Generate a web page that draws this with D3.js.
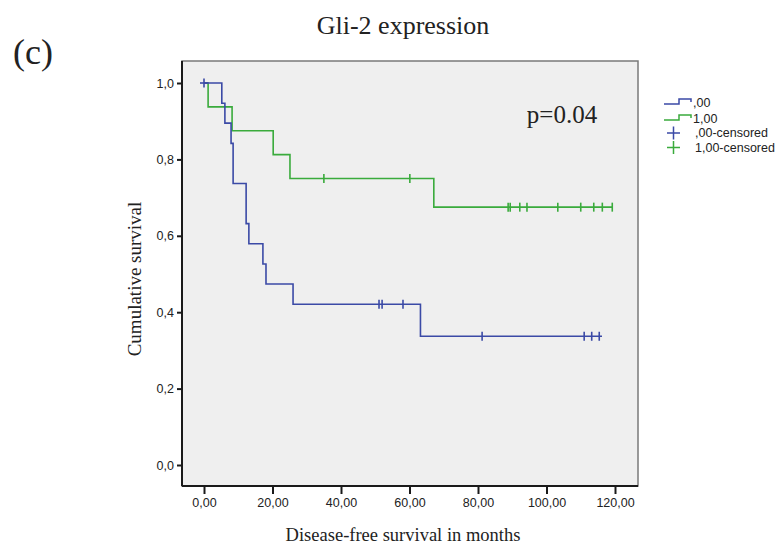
<!DOCTYPE html>
<html>
<head>
<meta charset="utf-8">
<script src="https://cdn.jsdelivr.net/npm/d3@7"></script>
<style>
  body { margin: 0; background: #fff; }
  .serif { font-family: "Liberation Serif", "DejaVu Serif", serif; fill: #222; }
  .sans { font-family: "Liberation Sans", Arial, sans-serif; fill: #222; }
</style>
</head>
<body>
<script>
const W = 778;
const H = 548;

// Kaplan-Meier steps: event times and survival after each event
const groups = [",00", "1,00"];
const colors = ["#3b4aa6", "#3aab3c"];

const blueTimes = [0, 5.2, 6.1, 7.9, 8.5, 12.3, 13.1, 17.2, 18.1, 26.0, 63.2];
const blueSurv = [1, 0.947, 0.895, 0.842, 0.737, 0.632, 0.579, 0.526, 0.474, 0.421, 0.337];
const blueCensored = [0, 51.1, 52.0, 58.1, 81.2, 111, 113.2, 115.4];
const blueEnd = 116.2;

const greenTimes = [0, 1.2, 8.2, 20.2, 25.1, 67.1];
const greenSurv = [1, 0.9375, 0.875, 0.8125, 0.75, 0.675];
const greenCensored = [35, 60.1, 88.8, 89.4, 92.2, 94.3, 103.3, 110, 113.8, 116.3, 119.2];
const greenEnd = 119.4;

const xTicks = [0, 20, 40, 60, 80, 100, 120];
const yTicks = [0, 0.2, 0.4, 0.6, 0.8, 1.0];

const frame = {left: 182, top: 61, right: 638, bottom: 486};

const x = d3.scaleLinear().domain([0, 120]).range([204, 615]);
const y = d3.scaleLinear().domain([0, 1]).range([465, 83]);

const fmtX = d => d3.format(".2f")(d).replace(".", ",");
const fmtY = d => d3.format(".1f")(d).replace(".", ",");

const svg = d3.select("body").append("svg")
    .attr("width", W)
    .attr("height", H);

// plot background
svg.append("rect")
    .attr("x", frame.left).attr("y", frame.top)
    .attr("width", frame.right - frame.left)
    .attr("height", frame.bottom - frame.top)
    .attr("fill", "#efefef")
    .attr("stroke", "#7a7a7a")
    .attr("stroke-width", 1.5);

// axes
const yAxis = svg.append("g")
    .attr("transform", `translate(${frame.left},0)`)
    .call(d3.axisLeft(y).tickValues(yTicks).tickFormat(fmtY).tickSize(5).tickSizeOuter(0));
yAxis.select(".domain").attr("d", `M0,${frame.top}V${frame.bottom}`);

const xAxis = svg.append("g")
    .attr("transform", `translate(0,${frame.bottom})`)
    .call(d3.axisBottom(x).tickValues(xTicks).tickFormat(fmtX).tickSize(8).tickSizeOuter(0));
xAxis.select(".domain").attr("d", `M${frame.left},0H${frame.right}`);

svg.selectAll(".domain").attr("stroke", "#1a1a1a").attr("stroke-width", 2);
svg.selectAll(".tick line").attr("stroke", "#1a1a1a").attr("stroke-width", 2);
svg.selectAll(".tick text")
    .attr("class", "sans")
    .style("font-size", "12.5px")
    .attr("fill", "#222")
    .attr("font-family", null);
yAxis.selectAll(".tick text").attr("x", -8);
xAxis.selectAll(".tick text").attr("y", 12);

// curves
function stepPoints (times, surv, end) {
  const pts = [];
  times.forEach((t, i) => {
    if (i > 0) pts.push([t, surv[i - 1]]);
    pts.push([t, surv[i]]);
  });
  pts.push([end, surv[surv.length - 1]]);
  return pts;
}

function survAt (times, surv, t) {
  let s = surv[0];
  times.forEach((tt, i) => { if (tt <= t) s = surv[i]; });
  return s;
}

const line = d3.line().x(d => x(d[0])).y(d => y(d[1]));

const series = [
  {times: blueTimes, surv: blueSurv, cens: blueCensored, end: blueEnd, color: colors[0]},
  {times: greenTimes, surv: greenSurv, cens: greenCensored, end: greenEnd, color: colors[1]}
];

series.slice().reverse().forEach(s => {
  svg.append("path")
      .attr("d", line(stepPoints(s.times, s.surv, s.end)))
      .attr("fill", "none")
      .attr("stroke", s.color)
      .attr("stroke-width", 1.6);

  svg.selectAll(null)
      .data(s.cens).enter()
    .append("line")
      .attr("x1", t => x(t)).attr("x2", t => x(t))
      .attr("y1", t => y(survAt(s.times, s.surv, t)) - 4.5)
      .attr("y2", t => y(survAt(s.times, s.surv, t)) + 4.5)
      .attr("stroke", s.color)
      .attr("stroke-width", 1.6);
});

// first blue censor is drawn as a plus
svg.append("line")
    .attr("x1", x(0) - 4).attr("x2", x(0) + 4)
    .attr("y1", y(1)).attr("y2", y(1))
    .attr("stroke", colors[0]).attr("stroke-width", 1.6);

// texts
svg.append("text").attr("class", "serif")
    .attr("x", 403).attr("y", 34)
    .attr("text-anchor", "middle")
    .style("font-size", "26px")
    .text("Gli-2 expression");

svg.append("text").attr("class", "serif")
    .attr("x", 13).attr("y", 64)
    .style("font-size", "36px")
    .text("(c)");

svg.append("text").attr("class", "serif")
    .attr("x", 562).attr("y", 123)
    .attr("text-anchor", "middle")
    .style("font-size", "25px")
    .text("p=0.04");

svg.append("text").attr("class", "serif")
    .attr("x", 403).attr("y", 541)
    .attr("text-anchor", "middle")
    .style("font-size", "18.5px")
    .text("Disease-free survival in months");

svg.append("text").attr("class", "serif")
    .attr("transform", "translate(141,279) rotate(-90)")
    .attr("text-anchor", "middle")
    .style("font-size", "19px")
    .text("Cumulative survival");

// legend
const legend = svg.append("g");
groups.forEach((g, i) => {
  const ly = 104 + i * 16;
  legend.append("path")
      .attr("d", `M664,${ly}H679V${ly - 5}H691V${ly - 2}`)
      .attr("fill", "none")
      .attr("stroke", colors[i])
      .attr("stroke-width", 1.5);
  legend.append("text").attr("class", "sans")
      .attr("x", 693).attr("y", ly + 3)
      .style("font-size", "12.5px")
      .text(g);
});
groups.forEach((g, i) => {
  const ly = 133 + i * 14.5;
  legend.append("path")
      .attr("d", `M667,${ly}H680M673.5,${ly - 6.5}V${ly + 6.5}`)
      .attr("stroke", colors[i])
      .attr("stroke-width", 1.5);
  legend.append("text").attr("class", "sans")
      .attr("x", 695).attr("y", ly + 4)
      .style("font-size", "12.5px")
      .text(g + "-censored");
});
</script>
</body>
</html>
